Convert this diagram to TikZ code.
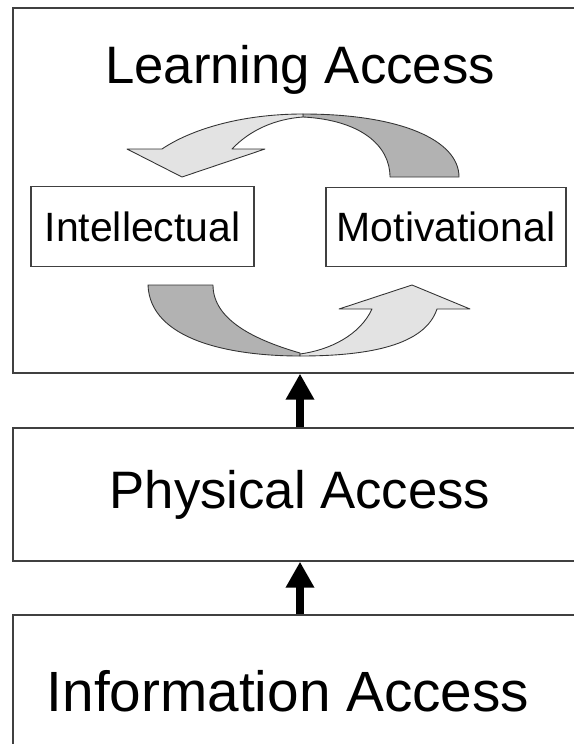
\documentclass[tikz,border=0pt]{standalone}
\usepackage{fontspec}
\setmainfont{Liberation Sans}
\usetikzlibrary{arrows.meta}

\definecolor{arrowlight}{gray}{0.89}
\definecolor{arrowdark}{gray}{0.70}

\tikzset{
	accessbox/.style={draw=black!75, line width=0.8pt, inner sep=0pt, minimum width=11.48cm, font=\fontsize{30}{36}\selectfont},
	subbox/.style={draw=black!75, line width=0.8pt, inner sep=0pt, minimum height=1.59cm, font=\fontsize{23.3}{28}\selectfont},
	uparrow/.style={line width=4.8pt, -{Triangle[width=0.54cm,length=0.52cm]}},
	curvepart/.style={draw=black!80, line width=0.5pt, line join=round}
}

\begin{document}
\begin{tikzpicture}[x=0.02cm, y=-0.02cm]
				\useasboundingbox (0,0) rectangle (574,744);
				\clip (0,0) rectangle (574,744);
				
				\node[accessbox, minimum height=7.3cm] (learning) at (300,190.5) {};
				\node[anchor=base, font=\fontsize{30}{36}\selectfont] (learningtitle) at (300,83) {Learning Access};
				\node[accessbox, minimum height=2.66cm] (physical) at (300,494.5) {Physical Access};
				\node[accessbox, minimum height=3cm] (information) at (300,690) {};
				\node[anchor=base, font=\fontsize{32.3}{38}\selectfont] (informationtitle) at (288,711) {Information Access};
				
				\node[subbox, minimum width=4.46cm] (intellectual) at (142.5,226.5) {Intellectual};
				\node[subbox, minimum width=4.8cm] (motivational) at (446,227) {Motivational};
				
				% upper curved arrow
				\draw[curvepart, fill=arrowdark] (459,177) .. controls (459,140) and (400,114) .. (303,114)
					-- (303,117) .. controls (360,120) and (390,145) .. (390,177) -- cycle;
				\draw[curvepart, fill=arrowlight] (303,114) .. controls (240,114) and (190,130) .. (162,149)
					-- (127,149) -- (182,177) -- (265,149) -- (232,149)
					.. controls (250,130) and (275,119) .. (303,117) -- cycle;
				
				% lower curved arrow
				\draw[curvepart, fill=arrowdark] (148,285) .. controls (150,340) and (230,356) .. (300,356)
					-- (300,353) .. controls (255,340) and (213,320) .. (213,285) -- cycle;
				\draw[curvepart, fill=arrowlight] (300,356) .. controls (370,356) and (425,345) .. (437,309)
					-- (470,309) -- (412,285) -- (339,309) -- (372,309)
					.. controls (360,335) and (330,350) .. (300,354) -- cycle;
				
				\draw[uparrow] (physical.north) -- (learning.south);
				\draw[uparrow] (information.north) -- (physical.south);
\end{tikzpicture}
\end{document}
